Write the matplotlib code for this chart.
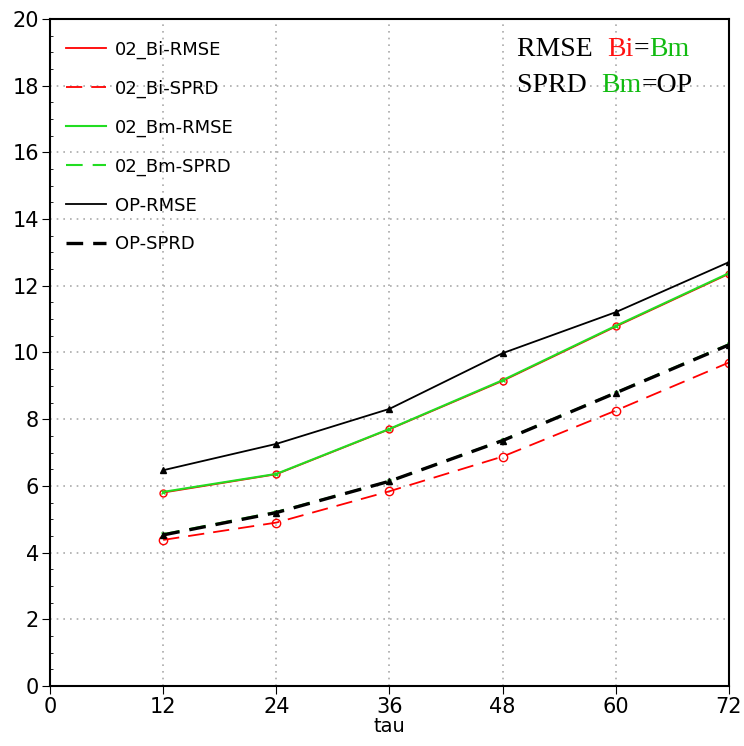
import matplotlib
matplotlib.use("Agg")
import matplotlib.pyplot as plt
from matplotlib.ticker import MultipleLocator
from matplotlib.lines import Line2D

tau = [12, 24, 36, 48, 60, 72]
bi_rmse = [5.80, 6.35, 7.70, 9.15, 10.78, 12.36]
bi_sprd = [4.38, 4.90, 5.84, 6.88, 8.26, 9.70]
bm_rmse = [5.82, 6.36, 7.71, 9.17, 10.80, 12.38]
bm_sprd = [4.55, 5.22, 6.14, 7.37, 8.80, 10.25]
op_rmse = [6.47, 7.26, 8.31, 9.98, 11.21, 12.71]
op_sprd = [4.53, 5.20, 6.14, 7.36, 8.79, 10.23]

xticks = [0, 12, 24, 36, 48, 60, 72]
yticks = list(range(0, 21, 2))
labels = ['02_Bi-RMSE', '02_Bi-SPRD', '02_Bm-RMSE', '02_Bm-SPRD', 'OP-RMSE', 'OP-SPRD']

plt.rcParams['font.family'] = ['DejaVu Sans']

fig = plt.figure(figsize=(7.44, 7.46), dpi=100)
ax = fig.add_axes([50/744, 60/746, 679/744, 667/746])

red = '#ff0000'
green = '#22dd22'
styles = [
    dict(color=red, lw=1.3, ls='-'),
    dict(color=red, lw=1.3, ls=(0, (9, 5))),
    dict(color=green, lw=1.5, ls='-'),
    dict(color=green, lw=1.5, ls=(0, (8, 4.8))),
    dict(color='black', lw=1.3, ls='-'),
    dict(color='black', lw=2.4, ls=(0, (5, 3))),
]
series = [bi_rmse, bi_sprd, bm_rmse, bm_sprd, op_rmse, op_sprd]
marks = [
    dict(marker='o', ms=5, mfc='none', mec=red),
    dict(marker='o', ms=6, mfc='none', mec=red),
    dict(marker='x', ms=3, mec=green),
    dict(marker='x', ms=3, mec=green),
    dict(marker='^', ms=4),
    dict(marker='^', ms=4),
]
for ys, st, mk in zip(series, styles, marks):
    ax.plot(tau, ys, **st, **mk)

ax.set_xlim(0, 72)
ax.set_ylim(0, 20)
ax.set_xticks(xticks)
ax.set_yticks(yticks)
ax.yaxis.set_minor_locator(MultipleLocator(0.5))
ax.grid(True, which='major', color='#aaaaaa', ls=(0, (1, 3)), lw=1.2)
ax.tick_params(axis='both', which='major', labelsize=15, length=6, direction='out', pad=2)
ax.tick_params(axis='y', which='minor', length=2, direction='in')
for s in ax.spines.values():
    s.set_linewidth(1.5)
ax.set_xlabel('tau', fontsize=14, labelpad=0)

handles = [Line2D([], [], **st) for st in styles]
ax.legend(handles, labels, loc='upper left', frameon=False, fontsize=13, handlelength=2.2,
          labelspacing=1.15, bbox_to_anchor=(0.0, 0.992), handletextpad=0.5)

serif = ['Liberation Serif', 'DejaVu Serif']
fs = 20
y1, y2 = 0.955, 0.9
x0 = 0.688
def put(x, y, s, c):
    return ax.text(x, y, s, transform=ax.transAxes, fontsize=fs, color=c, family=serif, va='center')
fig.canvas.draw()
r = fig.canvas.get_renderer()
def chain(x, y, parts):
    for s, c in parts:
        t = put(x, y, s, c)
        bb = t.get_window_extent(renderer=r)
        x += bb.width / ax.get_window_extent().width
chain(x0, y1, [('RMSE  ', 'black'), ('Bi', '#ff1111'), ('=', 'black'), ('Bm', '#11bb11')])
chain(x0, y2, [('SPRD  ', 'black'), ('Bm', '#11bb11'), ('=OP', 'black')])

fig.savefig('out.png', dpi=100)
